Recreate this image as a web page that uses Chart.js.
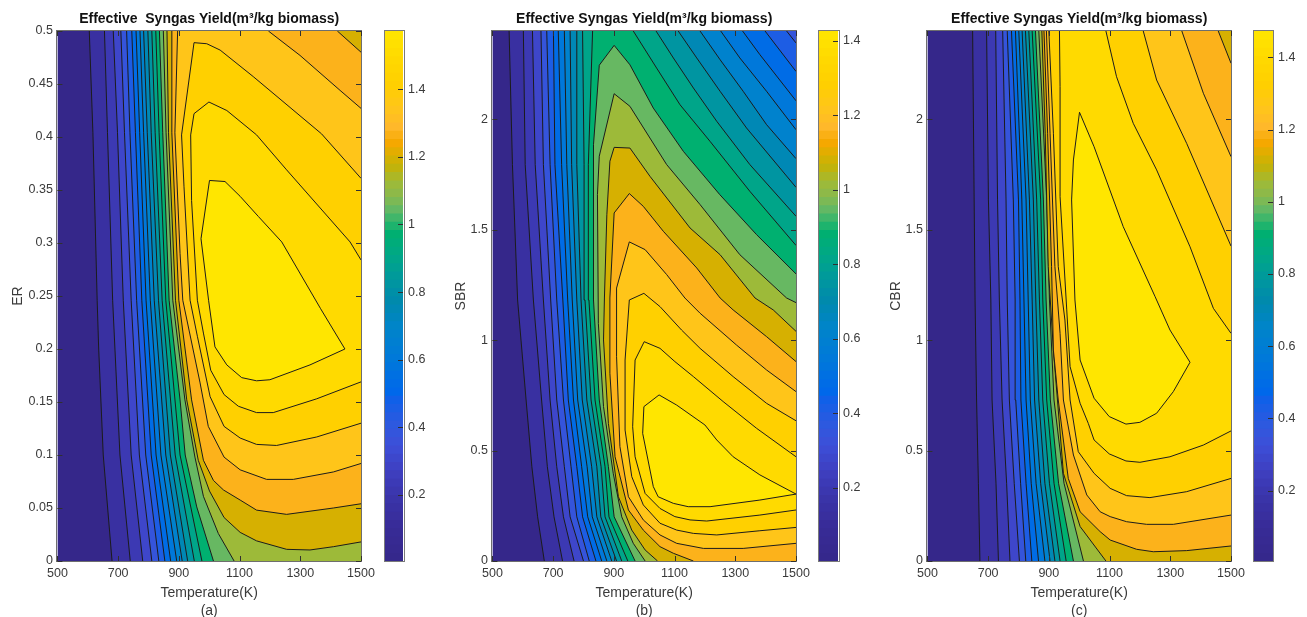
<!DOCTYPE html>
<html><head><meta charset="utf-8">
<style>
html,body{margin:0;padding:0;background:#fff;width:1307px;height:617px;overflow:hidden}
.c{position:absolute;top:0;height:617px;filter:blur(.35px)}
</style>
<script src="https://cdn.jsdelivr.net/npm/chart.js@4"></script>
</head><body>
<div class="c" style="left:0;width:380px"><canvas id="pa"></canvas></div>
<div class="c" style="left:380px;width:55px"><canvas id="ba"></canvas></div>
<div class="c" style="left:435px;width:380px"><canvas id="pb"></canvas></div>
<div class="c" style="left:814px;width:56px"><canvas id="bb"></canvas></div>
<div class="c" style="left:870px;width:380px"><canvas id="pc"></canvas></div>
<div class="c" style="left:1250px;width:57px"><canvas id="bc"></canvas></div>
<script>
// ---------- data: flat [T, value, T, value, ...] contour lines, one per level (lowest first)
const xTicks = [500,700,900,1100,1300,1500];
const yTicksA = [0,0.05,0.1,0.15,0.2,0.25,0.3,0.35,0.4,0.45,0.5];
const yTicksBC = [0,0.5,1,1.5,2];
const cbarTicks = [0.2,0.4,0.6,0.8,1,1.2,1.4];
const yMaxA = 0.5, yMaxBC = 2.4;
const cbarRangeA = [0.005,1.572], cbarRangeB = [0.004,1.426], cbarRangeC = [0.005,1.473];
const titleA = 'Effective  Syngas Yield(m³/kg biomass)', titleBC = 'Effective Syngas Yield(m³/kg biomass)';

const contoursA = [
[680,0,651,.1,636,.2,631,.246,617,.404,605,.5,1500,.5,1500,0],
[740,0,706,.1,682,.246,665,.404,655,.5,1500,.5,1500,0],
[781,0,743,.1,717,.246,698,.404,684,.5,1500,.5,1500,0],
[811,0,770,.1,743,.246,721,.404,709,.5,1500,.5,1500,0],
[834,0,791,.1,761,.246,739,.404,728,.5,1500,.5,1500,0],
[854,0,809,.1,778,.246,757,.404,745,.5,1500,.5,1500,0],
[873,0,825,.1,792,.246,771,.404,759,.5,1500,.5,1500,0],
[893,0,841,.1,806,.246,784,.404,772,.5,1500,.5,1500,0],
[911,0,857,.1,819,.246,796,.404,784,.5,1500,.5,1500,0],
[929,0,872,.1,833,.246,809,.404,798,.5,1500,.5,1500,0],
[951,0,888,.1,845,.246,822,.404,811,.5,1500,.5,1500,0],
[976,0,904,.1,857,.246,835,.404,824,.5,1500,.5,1500,0],
[1014,0,959,.051,921,.1,904,.152,868,.246,847,.404,836,.5,1500,.5,1500,0],
[1082,0,1030,.026,981,.061,953,.098,920,.152,880,.246,858,.404,849,.5,1500,.5,1500,0],
[1500,.018,1409,.0135,1332,.0104,1255,.011,1156,.019,1102,.027,1049,.041,1001,.066,964,.095,926,.152,889,.246,866,.404,861,.5,1500,.5],
[1500,.054,1409,.05,1255,.044,1156,.048,1102,.0575,1047,.067,1014,.076,981,.095,942,.152,900,.246,877,.404,877,.5,1422,.5,1500,.48],
[1500,.092,1409,.084,1277,.077,1189,.077,1102,.086,1049,.098,997,.127,970,.168,913,.246,904,.29,887,.404,896,.5,1195,.5,1299,.477,1431,.444,1500,.427],
[1500,.13,1354,.117,1222,.109,1156,.11,1102,.116,1049,.127,1003,.155,961,.212,937,.246,917,.353,909,.402,950,.489,992,.488,1036,.482,1145,.457,1370,.403,1500,.361],
[1500,.169,1354,.153,1211,.14,1156,.14,1096,.146,1049,.157,1005,.18,981,.215,961,.246,942,.34,939,.402,950,.422,999,.433,1058,.425,1156,.402,1255,.369,1464,.301,1500,.284],
[1001,.359,1052,.358,1102,.344,1162,.325,1239,.301,1367,.238,1447,.2,1332,.185,1200,.171,1156,.17,1107,.173,1058,.185,1019,.202,998,.246,973,.304,1001,.359]
];

const contoursB = [
[671,0,649,.2,630,.427,611,.729,583,1.182,566,1.795,555,2.4,1500,2.4,1500,0],
[731,0,703,.2,681,.427,662,.729,635,1.182,608,1.795,602,2.4,1500,2.4,1500,0],
[769,0,734,.2,712,.427,690,.729,668,1.182,641,1.795,632,2.4,1500,2.4,1500,0],
[800,0,756,.2,737,.427,712,.729,692,1.182,668,1.795,660,2.4,1500,2.4,1500,0],
[819,0,778,.2,759,.427,734,.729,712,1.182,690,1.795,679,2.4,1469,2.4,1500,2.346,1500,0],
[841,0,797,.2,778,.427,750,.729,732,1.182,706,1.795,701,2.4,1398,2.4,1500,2.217,1500,0],
[860,0,814,.2,794,.427,767,.729,748,1.182,728,1.795,717,2.4,1324,2.4,1381,2.293,1500,2.084,1500,0],
[877,0,829,.2,812,.427,781,.729,763,1.182,745,1.795,737,2.4,1252,2.4,1315,2.278,1403,2.127,1500,1.953,1500,0],
[893,0,844,.2,827,.427,796,.729,778,1.182,761,1.795,756,2.4,1184,2.4,1250,2.27,1326,2.127,1403,1.976,1500,1.822,1500,0],
[909,0,857,.2,844,.427,811,.729,792,1.182,778,1.795,778,2.4,1112,2.4,1173,2.278,1250,2.127,1337,1.961,1500,1.692,1500,0],
[926,0,871,.2,858,.427,825,.729,805,1.182,802,1.795,797,2.4,1039,2.4,1096,2.278,1162,2.142,1239,1.991,1348,1.795,1500,1.561,1500,0],
[946,0,884,.2,871,.427,838,.729,818,1.182,816,1.795,830,2.4,964,2.4,1041,2.232,1118,2.066,1217,1.9,1348,1.674,1500,1.429,1500,0],
[970,0,901,.2,882,.427,852,.729,833,1.182,833,1.885,852,2.245,901,2.335,953,2.247,1030,2.051,1129,1.855,1249,1.659,1370,1.478,1500,1.3,1500,0],
[1003,0,964,.08,926,.2,898,.397,866,.699,849,1.076,846,1.659,852,1.833,901,2.116,953,2.059,1074,1.795,1184,1.614,1315,1.387,1469,1.191,1500,1.17,1500,0],
[1044,0,1003,.05,959,.14,915,.291,882,.623,866,1.001,869,1.191,877,1.568,887,1.81,901,1.873,953,1.87,1019,1.742,1151,1.508,1250,1.387,1365,1.191,1425,1.137,1500,1.04,1500,0],
[1162,0,1096,.035,1052,.065,997,.14,948,.231,904,.472,887,.85,887,1.191,901,1.576,951,1.664,997,1.606,1063,1.493,1173,1.327,1250,1.191,1293,1.137,1403,1.016,1500,.903,1500,0],
[1500,.08,1326,.057,1195,.057,1107,.08,1052,.118,997,.186,948,.291,920,.518,909,.925,909,1.236,951,1.445,1003,1.41,1074,1.297,1134,1.191,1184,1.122,1304,.978,1403,.865,1500,.767],
[1500,.152,1381,.137,1239,.118,1162,.125,1107,.14,1052,.171,997,.254,959,.382,937,.593,937,.91,951,1.182,999,1.212,1052,1.152,1123,1.046,1184,.963,1293,.835,1403,.714,1500,.635],
[1500,.231,1381,.208,1206,.181,1151,.186,1101,.201,1052,.238,1003,.306,970,.472,962,.608,970,.91,1000,.993,1052,.963,1101,.903,1162,.835,1260,.722,1370,.601,1500,.472],
[999,.699,1049,.752,1107,.706,1200,.616,1239,.548,1293,.472,1381,.39,1500,.303,1381,.276,1217,.246,1145,.246,1096,.261,1046,.291,1030,.337,995,.578,999,.699]
];

const contoursC = [
[673,0,668,.352,662,.729,657,1.182,654,1.635,649,2.4,1500,2.4,1500,0],
[734,0,726,.352,713,.729,709,1.182,701,1.635,695,2.4,1500,2.4,1500,0],
[772,0,761,.352,746,.729,737,1.182,731,1.635,725,2.4,1500,2.4,1500,0],
[803,0,786,.352,770,.729,763,1.182,759,1.635,748,2.4,1500,2.4,1500,0],
[824,0,807,.352,791,.729,789,1.182,783,1.635,763,2.4,1500,2.4,1500,0],
[844,0,825,.352,808,.729,805,1.182,800,1.635,777,2.4,1500,2.4,1500,0],
[866,0,842,.352,825,.729,818,1.182,811,1.635,790,2.4,1500,2.4,1500,0],
[887,0,858,.352,839,.729,832,1.182,825,1.635,801,2.4,1500,2.4,1500,0],
[904,0,873,.352,853,.729,845,1.182,836,1.635,812,2.4,1500,2.4,1500,0],
[920,0,887,.352,867,.729,857,1.182,849,1.635,823,2.4,1500,2.4,1500,0],
[937,0,902,.352,880,.729,869,1.182,860,1.635,834,2.4,1500,2.4,1500,0],
[957,0,917,.352,893,.729,880,1.182,873,1.635,845,2.4,1500,2.4,1500,0],
[981,0,932,.352,905,.729,891,1.182,882,1.635,856,2.4,1500,2.4,1500,0],
[1014,0,950,.352,917,.729,902,1.182,893,1.635,867,2.4,1500,2.4,1500,0],
[1088,0,1003,.156,948,.397,915,.955,898,1.333,888,1.937,877,2.4,1500,2.4,1500,0],
[1500,.068,1354,.047,1244,.042,1189,.053,1102,.095,1069,.133,1003,.223,964,.374,931,.729,915,.955,909,1.333,896,1.937,884,2.4,1458,2.4,1500,2.254],
[1500,.208,1310,.166,1222,.166,1156,.178,1102,.201,1069,.223,1025,.299,981,.48,948,.729,937,1.031,920,1.333,904,1.937,892,2.4,1338,2.4,1409,2.118,1500,1.831],
[1500,.374,1354,.314,1233,.287,1156,.296,1102,.329,1049,.397,997,.495,970,.729,953,1.091,931,1.333,915,1.937,900,2.4,1211,2.4,1255,2.178,1354,1.891,1500,1.426],
[1500,.589,1409,.525,1299,.472,1200,.447,1154,.453,1099,.485,1049,.548,1030,.623,1003,.714,970,.88,959,1.137,937,1.65,937,2.148,935,2.4,1088,2.4,1123,2.193,1178,1.982,1255,1.771,1365,1.423,1442,1.144,1500,1.031],
[1001,2.032,1049,1.876,1145,1.514,1250,1.197,1299,1.046,1365,.9,1310,.767,1255,.669,1200,.628,1154,.62,1099,.654,1049,.737,1003,.91,986,1.182,975,1.635,981,1.816,1001,2.032]
];

// ---------- colour map (parula-like, 64 bands)
const colorKnots = [[0,'#35278a'],[.068,'#382c98'],[.118,'#3a34a8'],[.17,'#3e3fc0'],[.22,'#3d4fd8'],[.263,'#2b5ae0'],[.307,'#0f60e8'],[.32,'#0068ea'],[.38,'#0078da'],[.445,'#0085c8'],[.49,'#0089ad'],[.527,'#0096a0'],[.57,'#00a58a'],[.62,'#00b070'],[.66,'#5cb868'],[.685,'#85b950'],[.715,'#9eba38'],[.745,'#c4b208'],[.765,'#d9b000'],[.79,'#f6a800'],[.82,'#ffb82a'],[.855,'#ffc51a'],[.9,'#ffcf00'],[.95,'#ffd900'],[1,'#ffe600']];
function hexRgb(h){return [1,3,5].map(i=>parseInt(h.substr(i,2),16));}
function colormap(f){
  f=Math.min(1,Math.max(0,f));
  for(let i=1;i<colorKnots.length;i++){
    if(f<=colorKnots[i][0]){
      const [a,ca]=colorKnots[i-1],[b,cb]=colorKnots[i];
      const t=(f-a)/(b-a),A=hexRgb(ca),B=hexRgb(cb);
      return 'rgb('+A.map((v,j)=>Math.round(v+(B[j]-v)*t)).join(',')+')';
    }
  }
  return colorKnots[colorKnots.length-1][1];
}

const FONT='"Liberation Sans",Arial,sans-serif';
const TEXT='#3a3a3a';
Chart.defaults.font.family=FONT;
Chart.defaults.animation=false;

function pts(flat){const o=[];for(let i=0;i<flat.length;i+=2)o.push({x:flat[i],y:flat[i+1]});return o;}

const frame={
  id:'frame',
  afterDatasetsDraw(ch,_,o){
    const {left,right,top,bottom}=ch.chartArea,c=ch.ctx;
    c.save();c.lineWidth=1;
    c.strokeStyle=o.color||'#6e6e6e';
    c.strokeRect(Math.round(left)-.5,Math.round(top)-.5,Math.round(right-left)+1,Math.round(bottom-top)+1);
    c.strokeStyle='#303030';c.beginPath();
    const L=5;
    (ch.scales.y.ticks).forEach(t=>{
      const p=Math.round(ch.scales.y.getPixelForValue(t.value))+.5;
      if(o.all){c.moveTo(left,p);c.lineTo(left+L,p);}
      c.moveTo(right,p);c.lineTo(right-L,p);
    });
    if(o.all)(ch.scales.x.ticks).forEach(t=>{
      const p=Math.round(ch.scales.x.getPixelForValue(t.value))+.5;
      c.moveTo(p,bottom);c.lineTo(p,bottom-L);
      c.moveTo(p,top);c.lineTo(p,top+L);
    });
    c.stroke();c.restore();
  }
};

function panel(id,contours,yMax,yTicks,title,yLabel,sub,yTitlePad){
  const onEdge=(a,b)=>{
    const e=1e-9;
    return (a.y<e&&b.y<e)||(a.y>yMax-e&&b.y>yMax-e)||(a.x>1500-e&&b.x>1500-e);
  };
  const sets=[];
  const n=contours.length;
  contours.slice().reverse().forEach((flat,i)=>{
    const k=n-i, data=pts(flat);
    sets.push({data,showLine:true,fill:false,pointRadius:0,borderWidth:1,borderColor:'#1c1c1c',tension:0,
      segment:{borderColor:c=>onEdge(c.p0.parsed,c.p1.parsed)?'rgba(0,0,0,0)':undefined}});
    sets.push({data,showLine:true,fill:'shape',pointRadius:0,borderWidth:0,backgroundColor:colormap((k+1)/(n+1)),tension:0});
  });
  sets.push({data:[{x:500,y:0},{x:500,y:yMax},{x:1500,y:yMax},{x:1500,y:0}],showLine:true,fill:'shape',pointRadius:0,borderWidth:0,backgroundColor:colormap(0),tension:0});
  new Chart(document.getElementById(id),{
    type:'scatter',
    data:{datasets:sets},
    plugins:[frame],
    options:{
      responsive:true,maintainAspectRatio:false,
      layout:{padding:{left:0,right:19,top:0,bottom:0}},
      plugins:{
        legend:{display:false},tooltip:{enabled:false},
        frame:{all:true},
        title:{display:true,fullSize:false,text:title,color:'#111',font:{size:14,weight:'bold',family:FONT,lineHeight:1.2},padding:{top:11,bottom:3.2}}
      },
      scales:{
        x:{type:'linear',min:500,max:1500,grid:{display:false,drawTicks:false},border:{display:false},
          afterBuildTicks:s=>{s.ticks=xTicks.map(v=>({value:v}));},
          afterFit:s=>{s.height=56;},
          ticks:{color:TEXT,font:{size:12.5},padding:5,maxRotation:0,autoSkip:false,callback:v=>String(v)},
          title:{display:true,text:['Temperature(K)',sub],color:TEXT,font:{size:14,lineHeight:'18px'},padding:{top:2,bottom:-3}}},
        y:{type:'linear',min:0,max:yMax,grid:{display:false,drawTicks:false},border:{display:false},
          afterBuildTicks:s=>{s.ticks=yTicks.map(v=>({value:v}));},
          afterFit:s=>{s.width=57.4;},
          ticks:{color:TEXT,font:{size:12.5},padding:4.5,autoSkip:false,callback:v=>String(v)},
          title:{display:true,text:yLabel,color:TEXT,font:{size:14},padding:{top:yTitlePad,bottom:0}}}
      }
    }
  });
}

function colorbar(id,range,padLeft,barW){
  const n=64,[lo,hi]=range,sets=[];
  for(let i=n-1;i>=0;i--){
    sets.push({data:[[lo+(hi-lo)*i/n,hi]],backgroundColor:colormap((i+.5)/n),borderWidth:0});
  }
  const box=document.getElementById(id).parentNode.clientWidth;
  new Chart(document.getElementById(id),{
    type:'bar',
    data:{labels:[''],datasets:sets},
    plugins:[frame],
    options:{
      responsive:true,maintainAspectRatio:false,
      layout:{padding:{left:padLeft,right:0,top:31,bottom:56}},
      plugins:{legend:{display:false},tooltip:{enabled:false},frame:{all:false,color:'#7a7a7a'}},
      datasets:{bar:{grouped:false,barPercentage:1,categoryPercentage:1}},
      scales:{
        x:{display:false},
        y:{position:'right',min:lo,max:hi,grid:{display:false,drawTicks:false},border:{display:false},
          afterBuildTicks:s=>{s.ticks=cbarTicks.filter(v=>v<=hi).map(v=>({value:v}));},
          afterFit:s=>{s.width=box-padLeft-barW;},
          ticks:{color:TEXT,font:{size:12.5},padding:5,autoSkip:false,callback:v=>String(v)}}
      }
    }
  });
}

panel('pa',contoursA,yMaxA,yTicksA,titleA,'ER','(a)',10);
panel('pb',contoursB,yMaxBC,yTicksBC,titleBC,'SBR','(b)',18);
panel('pc',contoursC,yMaxBC,yTicksBC,titleBC,'CBR','(c)',18);
colorbar('ba',cbarRangeA,4.5,18.5);
colorbar('bb',cbarRangeB,4.5,19.5);
colorbar('bc',cbarRangeC,4,19);
</script>
</body></html>
